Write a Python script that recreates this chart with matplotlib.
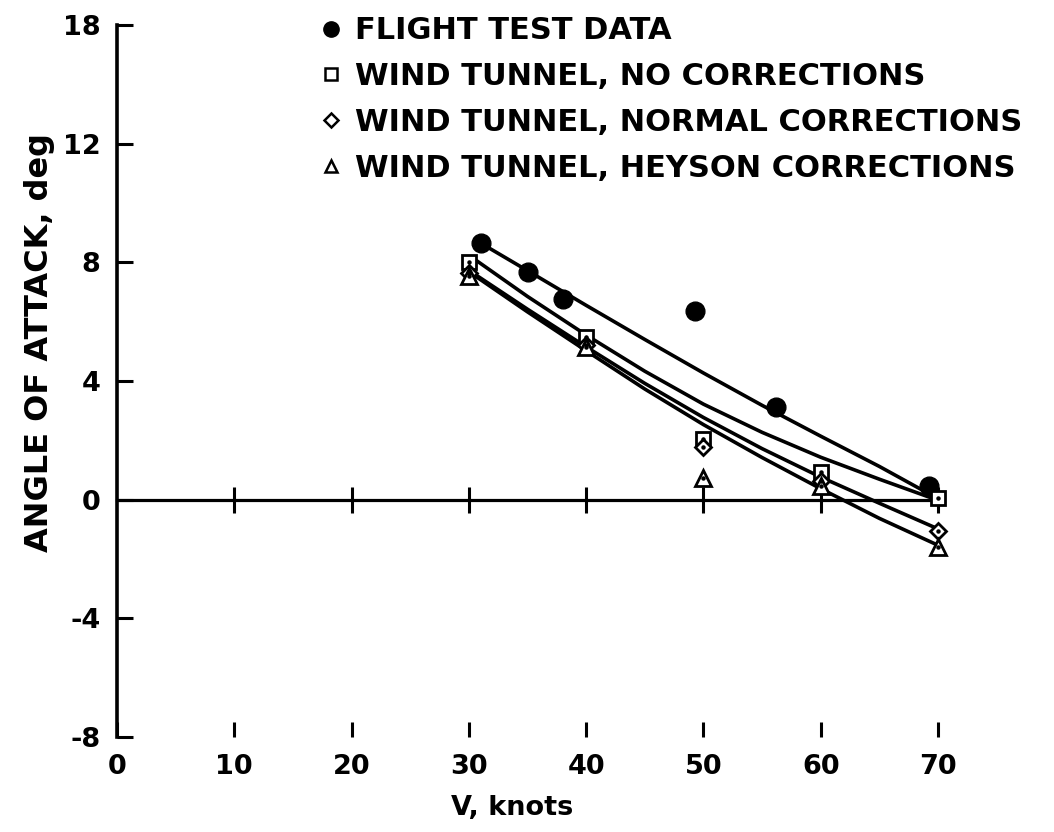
import matplotlib
matplotlib.use("Agg")
import matplotlib.pyplot as plt
from matplotlib.lines import Line2D

# ---- data ----
flight_v = [31, 35, 38, 49.3, 56.2, 69.2]
flight_a = [8.65, 7.68, 6.75, 6.35, 3.14, 0.47]

wt_v = [30, 40, 50, 60, 70]
nocorr_a = [8.0, 5.5, 2.06, 0.93, 0.06]
normal_a = [7.65, 5.2, 1.78, 0.62, -1.05]
heyson_a = [7.55, 5.15, 0.73, 0.45, -1.58]

# faired curves
fit_flight_v = [31, 35, 40, 45, 50, 55, 60, 65, 69]
fit_flight_a = [8.65, 7.72, 6.55, 5.4, 4.27, 3.18, 2.14, 1.12, 0.25]
fit_nocorr_v = [30.5, 35, 40, 45, 50, 55, 60, 65, 69.5]
fit_nocorr_a = [8.1, 6.85, 5.55, 4.33, 3.22, 2.27, 1.43, 0.69, 0.05]
fit_normal_v = [30.5, 35, 40, 45, 50, 55, 60, 65, 69.8]
fit_normal_a = [7.6, 6.42, 5.15, 3.92, 2.77, 1.72, 0.76, -0.12, -0.95]
fit_heyson_v = [30.5, 35, 40, 45, 50, 55, 60, 65, 69.8]
fit_heyson_a = [7.55, 6.33, 5.02, 3.73, 2.53, 1.42, 0.37, -0.63, -1.5]

xticks = [0, 10, 20, 30, 40, 50, 60, 70]
xtick_labels = ["0", "10", "20", "30", "40", "50", "60", "70"]
yticks = [-8, -4, 0, 4, 8, 12, 16]
ytick_labels = ["-8", "-4", "0", "4", "8", "12", "18"]

labels = ["FLIGHT TEST DATA",
          "WIND TUNNEL, NO CORRECTIONS",
          "WIND TUNNEL, NORMAL CORRECTIONS",
          "WIND TUNNEL, HEYSON CORRECTIONS"]

# ---- figure ----
plt.rcParams['font.family'] = ['DejaVu Sans']
fig = plt.figure(figsize=(10.54, 8.32), dpi=100)
ax = fig.add_axes([117/1054, 1-737/832, (938-117)/1054, (737-25)/832])
ax.set_xlim(0, 70)
ax.set_ylim(-8, 16)

lw = 2.6
# zero line with crossing ticks
ax.plot([0, 70], [0, 0], color='black', lw=2.3, clip_on=False, zorder=2)
ax.plot(xticks[1:], [0]*len(xticks[1:]), ls='none', marker='|', ms=19,
        mew=2.2, color='black', clip_on=False, zorder=2)

# faired curves
for v, a in [(fit_flight_v, fit_flight_a), (fit_nocorr_v, fit_nocorr_a),
             (fit_normal_v, fit_normal_a), (fit_heyson_v, fit_heyson_a)]:
    ax.plot(v, a, color='black', lw=lw, solid_capstyle='round',
            solid_joinstyle='round', zorder=3, clip_on=False)

# data markers
kw = dict(ls='none', color='black', clip_on=False, zorder=5)
ax.plot(flight_v, flight_a, marker='o', ms=13.5, mfc='black', mec='black', **kw)
ax.plot(wt_v, nocorr_a, marker='s', ms=10, mfc='white', mec='black', mew=2.0, **kw)
ax.plot(wt_v, normal_a, marker='D', ms=8.5, mfc='white', mec='black', mew=2.0, **kw)
ax.plot(wt_v, heyson_a, marker='^', ms=11, mfc='white', mec='black', mew=2.0, **kw)
for a in (nocorr_a, normal_a, heyson_a):
    ax.plot(wt_v, a, ls='none', marker='o', ms=2.2, color='black', clip_on=False, zorder=6)

# axes styling
for s in ['top', 'right', 'bottom']:
    ax.spines[s].set_visible(False)
ax.spines['left'].set_linewidth(2.6)
ax.set_xticks(xticks)
ax.set_xticklabels(xtick_labels, fontweight='bold')
ax.set_yticks(yticks)
ax.set_yticklabels(ytick_labels, fontweight='bold')
ax.tick_params(axis='both', direction='in', width=2.2, labelsize=19.5, color='black')
ax.tick_params(axis='x', length=10.5, pad=12)
ax.tick_params(axis='y', length=11.5, pad=12)

ax.set_xlabel("V, knots", fontsize=19.5, fontweight='bold', va='center')
ax.xaxis.set_label_coords((512-117)/(938-117), -(808-737)/(737-25))
ax.set_ylabel("ANGLE OF ATTACK, deg", fontsize=23, fontweight='bold', va='center')
ax.yaxis.set_label_coords(-(117-40)/(938-117), (737-343)/(737-25))

# legend (markers only)
leg_handles = [
    Line2D([], [], ls='none', marker='o', ms=11, mfc='black', mec='black'),
    Line2D([], [], ls='none', marker='s', ms=9, mfc='white', mec='black', mew=1.8),
    Line2D([], [], ls='none', marker='D', ms=7.5, mfc='white', mec='black', mew=1.8),
    Line2D([], [], ls='none', marker='^', ms=9, mfc='white', mec='black', mew=1.8),
]
leg = fig.legend(leg_handles, labels, loc='upper left',
                 bbox_to_anchor=(302/1054, 1-1/832), frameon=False,
                 prop={'size': 22, 'weight': 'bold'}, handlelength=0.9,
                 handletextpad=0.35, labelspacing=0.55, borderpad=0)

fig.savefig("out.png", dpi=100)
